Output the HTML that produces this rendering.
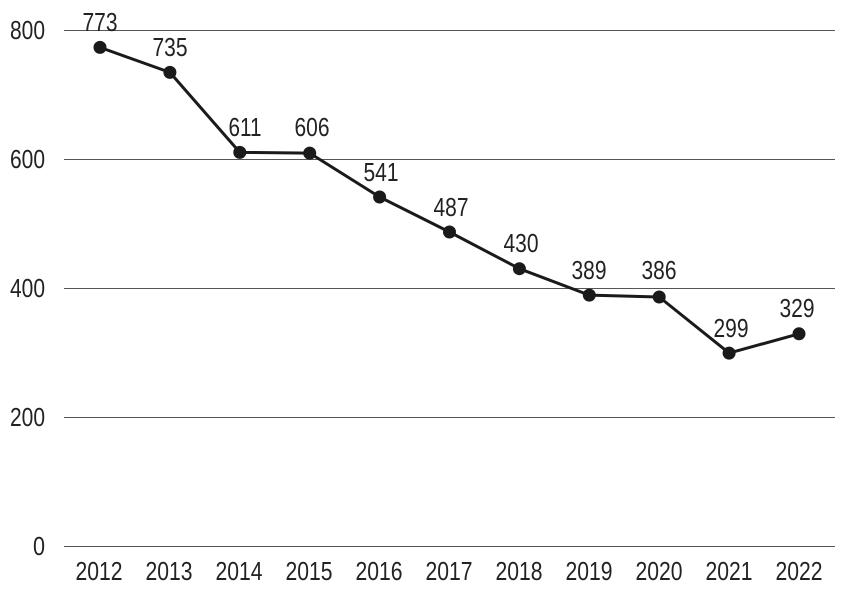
<!DOCTYPE html>
<html><head><meta charset="utf-8"><style>
html,body{margin:0;padding:0;background:#fff;}
svg{display:block;font-family:"Liberation Sans",Arial,sans-serif;}
</style></head><body>
<svg width="861" height="598" viewBox="0 0 861 598" xmlns="http://www.w3.org/2000/svg">
<g stroke="#555" stroke-width="1">
<line x1="64" y1="30.5" x2="835" y2="30.5"/>
<line x1="64" y1="159.5" x2="835" y2="159.5"/>
<line x1="64" y1="288.5" x2="835" y2="288.5"/>
<line x1="64" y1="417.5" x2="835" y2="417.5"/>
<line x1="64" y1="546.5" x2="835" y2="546.5"/>
</g>
<g font-size="26" fill="#222" text-anchor="end">
<text x="45" y="39" textLength="35" lengthAdjust="spacingAndGlyphs">800</text>
<text x="45" y="168" textLength="35" lengthAdjust="spacingAndGlyphs">600</text>
<text x="45" y="297" textLength="35" lengthAdjust="spacingAndGlyphs">400</text>
<text x="45" y="426" textLength="35" lengthAdjust="spacingAndGlyphs">200</text>
<text x="45" y="555" textLength="12" lengthAdjust="spacingAndGlyphs">0</text>
</g>
<g font-size="26" fill="#222" text-anchor="middle">
<text x="99" y="580" textLength="47" lengthAdjust="spacingAndGlyphs">2012</text>
<text x="169" y="580" textLength="47" lengthAdjust="spacingAndGlyphs">2013</text>
<text x="239" y="580" textLength="47" lengthAdjust="spacingAndGlyphs">2014</text>
<text x="309" y="580" textLength="47" lengthAdjust="spacingAndGlyphs">2015</text>
<text x="379" y="580" textLength="47" lengthAdjust="spacingAndGlyphs">2016</text>
<text x="449" y="580" textLength="47" lengthAdjust="spacingAndGlyphs">2017</text>
<text x="519" y="580" textLength="47" lengthAdjust="spacingAndGlyphs">2018</text>
<text x="589" y="580" textLength="47" lengthAdjust="spacingAndGlyphs">2019</text>
<text x="659" y="580" textLength="47" lengthAdjust="spacingAndGlyphs">2020</text>
<text x="729" y="580" textLength="47" lengthAdjust="spacingAndGlyphs">2021</text>
<text x="799" y="580" textLength="47" lengthAdjust="spacingAndGlyphs">2022</text>
</g>
<polyline fill="none" stroke="#1a1a1a" stroke-width="3" stroke-linejoin="round"
points="100,47.4 169.9,72.4 239.8,152.4 309.7,153.1 379.6,197.0 449.5,232.0 519.4,268.7 589.3,295.1 659.2,297.0 729.1,353.1 799,333.8"/>
<g fill="#1a1a1a">
<circle cx="100" cy="47.4" r="6.5"/><circle cx="169.9" cy="72.4" r="6.5"/>
<circle cx="239.8" cy="152.4" r="6.5"/><circle cx="309.7" cy="153.1" r="6.5"/>
<circle cx="379.6" cy="197.0" r="6.5"/><circle cx="449.5" cy="232.0" r="6.5"/>
<circle cx="519.4" cy="268.7" r="6.5"/><circle cx="589.3" cy="295.1" r="6.5"/>
<circle cx="659.2" cy="297.0" r="6.5"/><circle cx="729.1" cy="353.1" r="6.5"/>
<circle cx="799" cy="333.8" r="6.5"/>
</g>
<g font-size="26" fill="#222" text-anchor="middle">
<text x="100" y="31" textLength="35" lengthAdjust="spacingAndGlyphs">773</text>
<text x="170" y="56" textLength="35" lengthAdjust="spacingAndGlyphs">735</text>
<text x="245" y="136" textLength="33" lengthAdjust="spacingAndGlyphs">611</text>
<text x="312" y="136" textLength="35" lengthAdjust="spacingAndGlyphs">606</text>
<text x="381" y="181" textLength="35" lengthAdjust="spacingAndGlyphs">541</text>
<text x="451" y="216" textLength="35" lengthAdjust="spacingAndGlyphs">487</text>
<text x="521" y="252" textLength="35" lengthAdjust="spacingAndGlyphs">430</text>
<text x="589" y="279" textLength="35" lengthAdjust="spacingAndGlyphs">389</text>
<text x="659" y="279" textLength="35" lengthAdjust="spacingAndGlyphs">386</text>
<text x="731" y="337" textLength="35" lengthAdjust="spacingAndGlyphs">299</text>
<text x="797" y="317" textLength="35" lengthAdjust="spacingAndGlyphs">329</text>
</g>
</svg>
</body></html>
